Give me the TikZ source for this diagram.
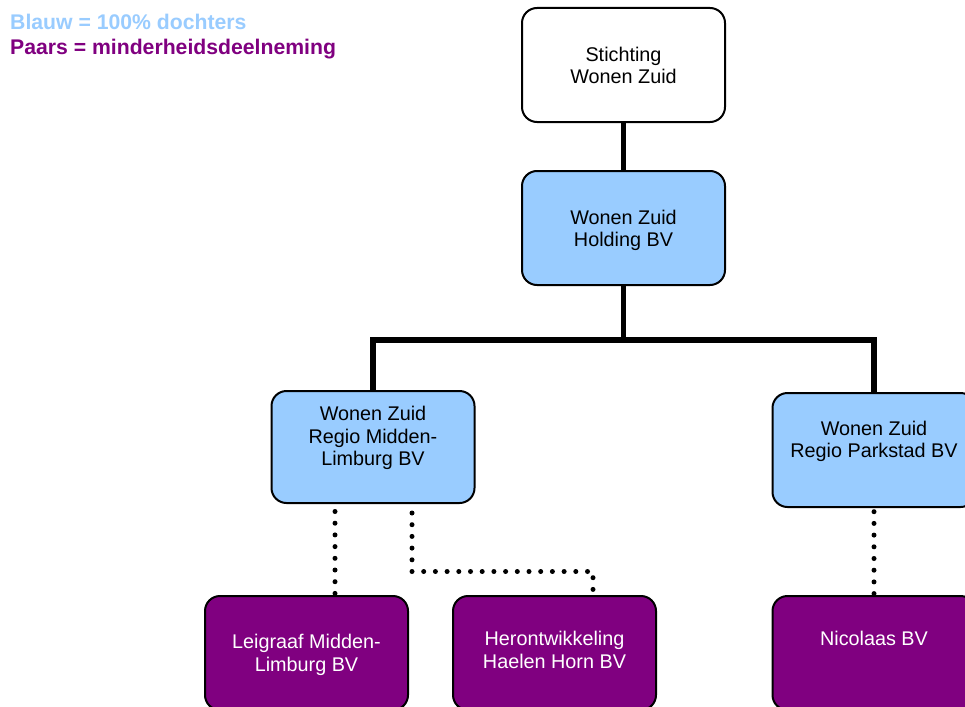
\documentclass[tikz,border=0pt]{standalone}
\usepackage{fontspec}
\setmainfont{Liberation Sans}
\definecolor{lblue}{HTML}{99CCFF}
\definecolor{purp}{HTML}{800080}
\begin{document}
\begin{tikzpicture}[x=1pt,y=-1pt,
  box/.style={draw=black, line width=2pt, rounded corners=15pt, minimum width=203pt, minimum height=114pt, inner sep=0pt, outer sep=0pt},
  bluebox/.style={box, fill=lblue},
  purpbox/.style={box, fill=purp},
  txt/.style={anchor=base, inner sep=0pt, font=\fontsize{19.8pt}{22pt}\selectfont},
  wtxt/.style={txt, text=white},
  legend/.style={anchor=base west, inner sep=0pt, font=\fontsize{21.2pt}{24pt}\selectfont\bfseries},
  solidcon/.style={line width=5.8pt, black},
  dotcon/.style={line width=5pt, black, line cap=round, dash pattern=on 0pt off 11.7pt}
]
\useasboundingbox[fill=white] (0,0) rectangle (965,706);

% legend
\node[legend, text=lblue] (leg1) at (10,29.5) {Blauw = 100\% dochters};
\node[legend, text=purp] (leg2) at (10,54.3) {Paars = minderheidsdeelneming};

% boxes
\node[box, fill=white] (stich) at (623.5,65) {};
\node[bluebox] (hold) at (623.5,228) {};
\node[bluebox, minimum height=112pt] (midden) at (373,447) {};
\node[bluebox] (park) at (874,450) {};
\node[purpbox] (leig) at (306.5,653) {};
\node[purpbox] (heron) at (554.5,653) {};
\node[purpbox] (nico) at (874,653) {};

% texts
\node[txt] (t1a) at (623.5,61.7) {Stichting};
\node[txt] (t1b) at (623.5,84) {Wonen Zuid};
\node[txt] (t2a) at (623.5,224) {Wonen Zuid};
\node[txt] (t2b) at (623.5,246.7) {Holding BV};
\node[txt] (t3a) at (373,420.7) {Wonen Zuid};
\node[txt] (t3b) at (373,443.3) {Regio Midden-};
\node[txt] (t3c) at (373,465.5) {Limburg BV};
\node[txt] (t4a) at (874,435) {Wonen Zuid};
\node[txt] (t4b) at (874,457.3) {Regio Parkstad BV};
\node[wtxt] (t5a) at (306.5,648.3) {Leigraaf Midden-};
\node[wtxt] (t5b) at (306.5,671.7) {Limburg BV};
\node[wtxt] (t6a) at (554.5,645) {Herontwikkeling};
\node[wtxt] (t6b) at (554.5,668.3) {Haelen Horn BV};
\node[wtxt] (t7a) at (874,645) {Nicolaas BV};

% solid connectors
\coordinate (bus) at (623.5,340);
\draw[solidcon] (stich.south) -- (hold.north);
\draw[solidcon] (hold.south) -- (bus);
\draw[solidcon] (midden.north) -- (midden.north |- bus) -- (park.north |- bus) -- (park.north);

% dotted connectors
\coordinate (bend) at (593,571.5);
\draw[dotcon] ([xshift=-38pt,yshift=-8.5pt]midden.south) -- ([xshift=28.5pt]leig.north);
\draw[dotcon] ([xshift=39pt,yshift=-10pt]midden.south) |- (bend) -- (bend |- heron.north);
\draw[dotcon] ([yshift=-4.7pt]park.south) -- (nico.north);
\end{tikzpicture}
\end{document}
